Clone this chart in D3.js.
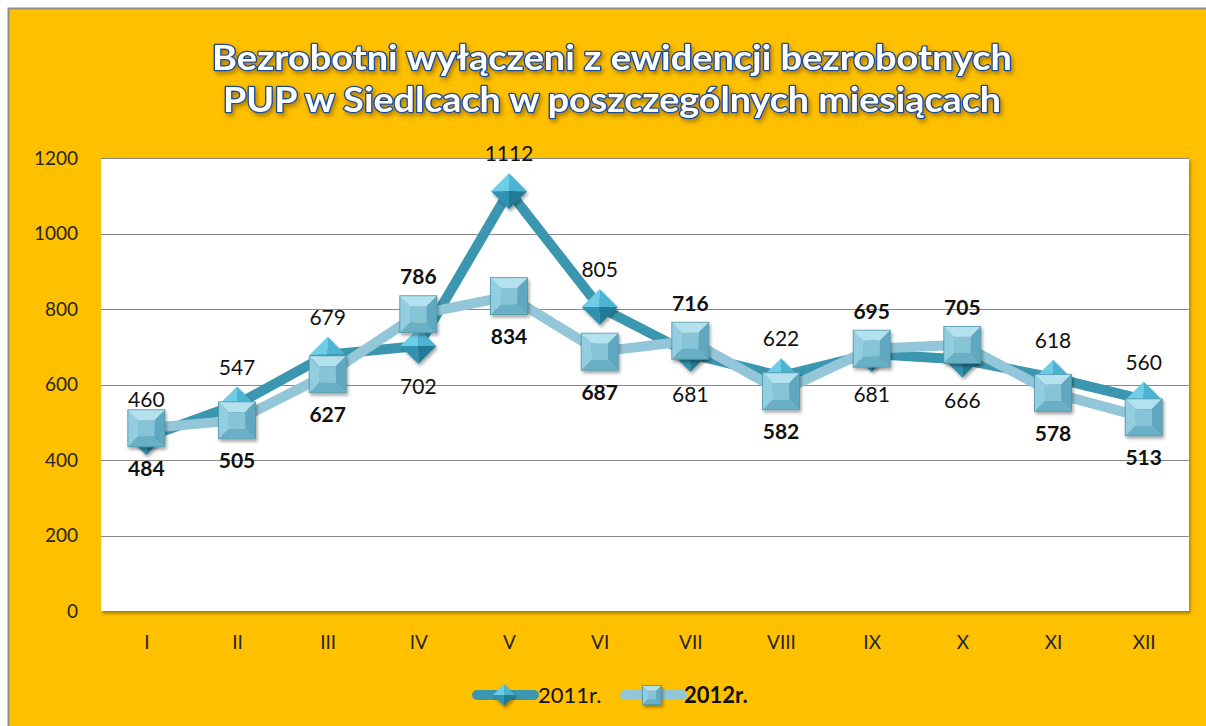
<!DOCTYPE html>
<html lang="pl">
<head>
<meta charset="UTF-8">
<title>Bezrobotni wyłączeni z ewidencji</title>
<script src="https://d3js.org/d3.v7.min.js"></script>
<style>
  body { margin: 0; padding: 0; background: #fff; overflow: hidden; }
  svg { display: block; font-family: Lato, "Open Sans", sans-serif; }
</style>
</head>
<body>
<svg id="chart"></svg>
<script>
// data
const months = ["I", "II", "III", "IV", "V", "VI", "VII", "VIII", "IX", "X", "XI", "XII"];
const values2011 = [460, 547, 679, 702, 1112, 805, 681, 622, 681, 666, 618, 560];
const values2012 = [484, 505, 627, 786, 834, 687, 716, 582, 695, 705, 578, 513];
const yTicks = [0, 200, 400, 600, 800, 1000, 1200];
const seriesNames = ["2011r.", "2012r."];
const titleLines = ["Bezrobotni wyłączeni z ewidencji bezrobotnych",
                    "PUP w Siedlcach w poszczególnych miesiącach"];

const width = 1206, height = 726;
const svg = d3.select("#chart").attr("width", width).attr("height", height);
const defs = svg.append("defs");

// soft shadow used by markers and plot area
const sh = defs.append("filter").attr("id", "shadow")
    .attr("x", "-20%").attr("y", "-20%").attr("width", "150%").attr("height", "160%");
sh.append("feDropShadow").attr("dx", 1.5).attr("dy", 2.5)
    .attr("stdDeviation", 1.8).attr("flood-color", "#000").attr("flood-opacity", 0.35);

const tsh = defs.append("filter").attr("id", "tshadow")
    .attr("x", "-5%").attr("y", "-20%").attr("width", "110%").attr("height", "160%");
tsh.append("feDropShadow").attr("dx", 2).attr("dy", 3)
    .attr("stdDeviation", 2).attr("flood-color", "#6b4a00").attr("flood-opacity", 0.5);

// background frame
svg.append("rect").attr("x", 0).attr("y", 0).attr("width", width).attr("height", height).attr("fill", "#fff");
svg.append("rect").attr("x", 8.5).attr("y", 8.5).attr("width", width).attr("height", height)
    .attr("fill", "#FFC000").attr("stroke", "#8e8e8e").attr("stroke-width", 2);

// title
const title = svg.append("g").attr("filter", "url(#tshadow)");
title.selectAll("text").data(titleLines).join("text")
    .attr("x", 612)
    .attr("y", (d, i) => 70 + i * 42)
    .attr("text-anchor", "middle")
    .attr("font-size", 34)
    .attr("font-weight", "bold")
    .attr("textLength", (d, i) => i === 0 ? 800 : 778)
    .attr("lengthAdjust", "spacingAndGlyphs")
    .attr("fill", "#fff")
    .attr("stroke", "#1E4E96")
    .attr("stroke-width", 2.6)
    .attr("paint-order", "stroke")
    .attr("stroke-linejoin", "round")
    .text(d => d);

// scales
const plot = { left: 101, right: 1189, top: 158, bottom: 611 };
const x = d3.scalePoint().domain(months).range([plot.left, plot.right]).padding(0.5);
const y = d3.scaleLinear().domain([0, 1200]).range([plot.bottom, plot.top]);

// plot area
svg.append("rect")
    .attr("x", plot.left).attr("y", plot.top)
    .attr("width", plot.right - plot.left).attr("height", plot.bottom - plot.top)
    .attr("fill", "#fff").attr("filter", "url(#shadow)");

// gridlines
svg.append("g").selectAll("line").data(yTicks.filter(t => t > 0)).join("line")
    .attr("x1", plot.left).attr("x2", plot.right)
    .attr("y1", d => Math.round(y(d)) + 0.5).attr("y2", d => Math.round(y(d)) + 0.5)
    .attr("stroke", "#8a8a8a").attr("stroke-width", 1);

// axes
const yAxis = svg.append("g")
    .attr("transform", `translate(${plot.left},0)`)
    .call(d3.axisLeft(y).tickValues(yTicks).tickFormat(d3.format("d")).tickSize(0).tickPadding(23));
yAxis.select(".domain").remove();
yAxis.selectAll("text").attr("font-size", 19).attr("fill", "#262626")
    .attr("font-family", "Lato, sans-serif");

const xAxis = svg.append("g")
    .attr("transform", `translate(0,${plot.bottom})`)
    .call(d3.axisBottom(x).tickSize(0).tickPadding(25));
xAxis.select(".domain").remove();
xAxis.selectAll("text").attr("font-size", 19).attr("fill", "#262626")
    .attr("font-family", "Lato, sans-serif");

// marker drawing
function squareMarker(g, cx, cy, s) {
  const h = s / 2, k = s * 0.22;
  const m = g.append("g").attr("transform", `translate(${cx},${cy})`).attr("filter", "url(#shadow)");
  const faces = [
    { p: [[-h, -h], [h, -h], [k, -k], [-k, -k]], c: "#B3E1EE" },
    { p: [[-h, -h], [-k, -k], [-k, k], [-h, h]], c: "#92CEE0" },
    { p: [[h, -h], [h, h], [k, k], [k, -k]], c: "#5FA8BF" },
    { p: [[-h, h], [-k, k], [k, k], [h, h]], c: "#69B0C6" },
    { p: [[-k, -k], [k, -k], [k, k], [-k, k]], c: "#86C5D8" }
  ];
  m.selectAll("path").data(faces).join("path")
    .attr("d", f => "M" + f.p.join("L") + "Z").attr("fill", f => f.c);
  m.append("rect").attr("x", -h).attr("y", -h).attr("width", s).attr("height", s)
    .attr("fill", "none").attr("stroke", "#4d94aa").attr("stroke-width", 0.8);
}

function diamondMarker(g, cx, cy, s) {
  const h = s / 2;
  const m = g.append("g").attr("transform", `translate(${cx},${cy})`).attr("filter", "url(#shadow)");
  const faces = [
    { p: [[0, -h], [0, 0], [-h, 0]], c: "#6FCDE7" },
    { p: [[0, -h], [h, 0], [0, 0]], c: "#4DB3D2" },
    { p: [[-h, 0], [0, 0], [0, h]], c: "#2F92B0" },
    { p: [[0, 0], [h, 0], [0, h]], c: "#217A96" }
  ];
  m.selectAll("path").data(faces).join("path")
    .attr("d", f => "M" + f.p.join("L") + "Z").attr("fill", f => f.c);
}

const line = d3.line().x((d, i) => x(months[i])).y(d => y(d));

const series = [
  { values: values2011, color: "#3B97AF", marker: diamondMarker, size: 36, weight: "normal" },
  { values: values2012, color: "#93C6D8", marker: squareMarker, size: 37, weight: "bold" }
];

series.forEach(s => {
  const g = svg.append("g");
  g.append("path").datum(s.values)
    .attr("d", line).attr("fill", "none")
    .attr("stroke", s.color).attr("stroke-width", 10)
    .attr("stroke-linejoin", "round");
  s.values.forEach((v, i) => s.marker(g, x(months[i]), y(v), s.size));
});

// data labels: higher value of the pair goes above, except January
const labels = svg.append("g");
series.forEach((s, si) => {
  const other = series[1 - si].values;
  labels.selectAll(null).data(s.values).join("text")
    .attr("x", (d, i) => x(months[i]))
    .attr("y", (d, i) => {
      let above = d >= other[i];
      if (i === 0) above = !above;
      return above ? y(d) - 30 : y(d) + 48;
    })
    .attr("text-anchor", "middle")
    .attr("font-size", 21)
    .attr("font-weight", s.weight)
    .attr("fill", "#111")
    .text(d => d);
});

// legend
const legend = svg.append("g");
const legendItems = [
  { x: 477, tx: 538, s: series[0], name: seriesNames[0], size: 22 },
  { x: 625, tx: 684, s: series[1], name: seriesNames[1], size: 19 }
];
legendItems.forEach(it => {
  legend.append("line")
    .attr("x1", it.x).attr("x2", it.x + 57).attr("y1", 695).attr("y2", 695)
    .attr("stroke", it.s.color).attr("stroke-width", 10).attr("stroke-linecap", "round");
  it.s.marker(legend, it.x + 27, 695, it.size);
  legend.append("text")
    .attr("x", it.tx).attr("y", 703)
    .attr("font-size", 22).attr("font-weight", it.s.weight).attr("fill", "#111")
    .text(it.name);
});
</script>
</body>
</html>
